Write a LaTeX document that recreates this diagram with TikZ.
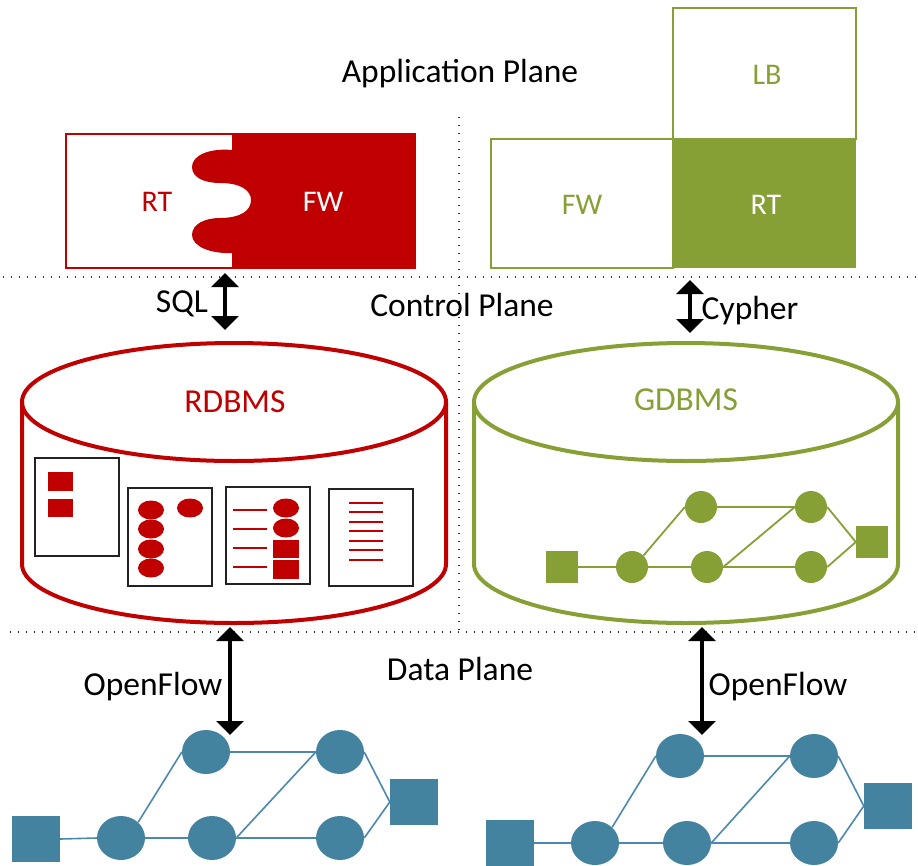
\documentclass[tikz,border=0pt]{standalone}
\usepackage{fontspec}
\setmainfont{Carlito}
\usetikzlibrary{arrows.meta,shapes.geometric}
\definecolor{dbred}{HTML}{C00000}
\definecolor{dbgreen}{HTML}{86A036}
\definecolor{netblue}{HTML}{43839F}
\definecolor{netline}{HTML}{4B88AE}
\definecolor{tblline}{HTML}{222222}

\begin{document}
\begin{tikzpicture}[x=1pt,y=-1pt,
  big/.style={font=\fontsize{33.5}{38}\selectfont, inner sep=0, anchor=base},
  mid/.style={font=\fontsize{30}{34}\selectfont, inner sep=0, anchor=base},
  sep/.style={line width=1.6pt, dash pattern=on 1.4pt off 6.6pt, black!80},
  biarrow/.style={line width=4pt, {Triangle[width=27pt,length=14pt]}-{Triangle[width=27pt,length=14pt]}},
  cyl/.style={line width=4pt},
  tbl/.style={draw=tblline, line width=1.4pt, fill=white},
  rowline/.style={dbred, line width=1.4pt},
  gcirc/.style={circle, fill=dbgreen, minimum size=32pt, inner sep=0},
  gsq/.style={rectangle, fill=dbgreen, minimum size=32pt, inner sep=0},
  gline/.style={dbgreen, line width=1.8pt},
  bcirc/.style={ellipse, fill=netblue, minimum width=48pt, minimum height=44pt, inner sep=0},
  bsq/.style={rectangle, fill=netblue, minimum width=48pt, minimum height=46pt, inner sep=0},
  bline/.style={netline, line width=1.6pt},
]
\useasboundingbox (0,0) rectangle (918,865);

% ---------- plane separators ----------
\draw[sep] (3,277) -- (918,277);
\draw[sep] (10,632) -- (918,632);
\draw[sep] (459,117) -- (459,632);

\node[big] (appplane) at (460,82) {Application Plane};
\node[big] (ctrlplane) at (462,316) {Control Plane};
\node[big] (dataplane) at (460,680) {Data Plane};

% ---------- relational application: puzzle ----------
\draw[dbred, line width=1.5pt, fill=white] (66,134) rectangle (415,268);
\fill[dbred] (232,134) -- (232,150)
  .. controls (210,148) and (192,155) .. (192,167)
  .. controls (192,178) and (205,183) .. (220,183)
  .. controls (240,183) and (251,190) .. (251,200)
  .. controls (251,211) and (240,218) .. (220,218)
  .. controls (205,218) and (192,224) .. (192,235)
  .. controls (192,246) and (210,254) .. (232,253)
  -- (232,268) -- (415,268) -- (415,134) -- cycle;
\node[mid, text=dbred] (rtred) at (157,211.5) {RT};
\node[mid, text=white] (fwred) at (323,211.5) {FW};

% ---------- graph application: stacked boxes ----------
\draw[dbgreen, line width=1.5pt] (673,8) rectangle (856,139);
\draw[dbgreen, line width=1.5pt] (491,139) rectangle (673,268);
\fill[dbgreen] (673,139) rectangle (856,268);
\node[mid, text=dbgreen] (lbg) at (767,84.5) {LB};
\node[mid, text=dbgreen] (fwg) at (582,214.5) {FW};
\node[mid, text=white] (rtg) at (766,214.5) {RT};

% ---------- query interfaces ----------
\coordinate (sqltop) at (225,273);
\coordinate (sqlbot) at (225,330);
\draw[biarrow] (sqltop) -- (sqlbot);
\node[big] (sql) at (182,312) {SQL};

\coordinate (cyphtop) at (690,280);
\coordinate (cyphbot) at (690,333);
\draw[biarrow] (cyphtop) -- (cyphbot);
\node[big] (cypher) at (750,319) {Cypher};

% ---------- RDBMS cylinder ----------
\draw[cyl, dbred] (234,402) ellipse [x radius=212pt, y radius=59pt];
\draw[cyl, dbred] (22,402) -- (22,564)
  arc[start angle=180, end angle=360, x radius=212pt, y radius=59pt]
  -- (446,402);
\node[big, text=dbred] (rdbms) at (235,412) {RDBMS};

% tables inside the RDBMS
\draw[tbl] (35,458) rectangle (119,556);
\fill[dbred] (48,472) rectangle (73,491);
\fill[dbred] (48,499) rectangle (73,517);

\draw[tbl] (128,488) rectangle (212,586);
\foreach \yy in {510,529,549,568}
  \fill[dbred] (151,\yy) ellipse [x radius=13pt, y radius=9.5pt];
\fill[dbred] (190,508) ellipse [x radius=13pt, y radius=9.5pt];

\draw[tbl] (226,487) rectangle (310,584);
\foreach \yy in {510,529,548,567}
  \draw[rowline] (233,\yy) -- (267,\yy);
\fill[dbred] (286,508) ellipse [x radius=13pt, y radius=9.5pt];
\fill[dbred] (286,528) ellipse [x radius=13pt, y radius=9.5pt];
\fill[dbred] (273,540) rectangle (299,558);
\fill[dbred] (273,560) rectangle (299,579);

\draw[tbl] (329,489) rectangle (413,586);
\foreach \yy in {503,512,522,531,541,550,560}
  \draw[rowline] (349,\yy) -- (383,\yy);

% ---------- GDBMS cylinder ----------
\draw[cyl, dbgreen] (686,402) ellipse [x radius=212pt, y radius=59pt];
\draw[cyl, dbgreen] (474,402) -- (474,564)
  arc[start angle=180, end angle=360, x radius=212pt, y radius=59pt]
  -- (898,402);
\node[big, text=dbgreen] (gdbms) at (686,410) {GDBMS};

% graph stored in the GDBMS
\node[gsq] (gs1) at (562,567) {};
\node[gcirc] (ga) at (632,567) {};
\node[gcirc] (gb) at (701,507) {};
\node[gcirc] (gc) at (707,567) {};
\node[gcirc] (gd) at (811,507) {};
\node[gcirc] (ge) at (811,567) {};
\node[gsq] (gs2) at (872,542) {};
\draw[gline] (gs1.east) -- (ga.west);
\draw[gline] (ga.north east) -- (gb.west);
\draw[gline] (ga.east) -- (gc.west);
\draw[gline] (gb.east) -- (gd.west);
\draw[gline] (gc.east) -- (gd.west);
\draw[gline] (gc.east) -- (ge.west);
\draw[gline] (gd.east) -- (gs2.west);
\draw[gline] (ge.east) -- (gs2.west);

% ---------- OpenFlow links ----------
\coordinate (oftop1) at (230,627);
\coordinate (ofbot1) at (230,735);
\draw[biarrow] (oftop1) -- (ofbot1);
\node[big] (of1) at (153,695) {OpenFlow};

\coordinate (oftop2) at (702,627);
\coordinate (ofbot2) at (702,735);
\draw[biarrow] (oftop2) -- (ofbot2);
\node[big] (of2) at (778,695) {OpenFlow};

% ---------- data plane networks ----------
\node[bsq] (ls1) at (36,839) {};
\node[bcirc] (la) at (121,838) {};
\node[bcirc] (lb) at (206,752) {};
\node[bcirc] (lc) at (212,838) {};
\node[bcirc] (ld) at (340,752) {};
\node[bcirc] (le) at (340,838) {};
\node[bsq] (ls2) at (414,802) {};
\draw[bline] (ls1.east) -- (la.west);
\draw[bline] (la.north east) -- (lb.west);
\draw[bline] (la.east) -- (lc.west);
\draw[bline] (lb.east) -- (ld.west);
\draw[bline] (lc.east) -- (ld.west);
\draw[bline] (lc.east) -- (le.west);
\draw[bline] (ld.east) -- (ls2.west);
\draw[bline] (le.east) -- (ls2.west);

\node[bsq] (rs1) at (510,843) {};
\node[bcirc] (ra) at (595,843) {};
\node[bcirc] (rb) at (680,756) {};
\node[bcirc] (rc) at (687,843) {};
\node[bcirc] (rd) at (814,756) {};
\node[bcirc] (re) at (814,843) {};
\node[bsq] (rs2) at (888,806) {};
\draw[bline] (rs1.east) -- (ra.west);
\draw[bline] (ra.north east) -- (rb.west);
\draw[bline] (ra.east) -- (rc.west);
\draw[bline] (rb.east) -- (rd.west);
\draw[bline] (rc.east) -- (rd.west);
\draw[bline] (rc.east) -- (re.west);
\draw[bline] (rd.east) -- (rs2.west);
\draw[bline] (re.east) -- (rs2.west);
\end{tikzpicture}
\end{document}
